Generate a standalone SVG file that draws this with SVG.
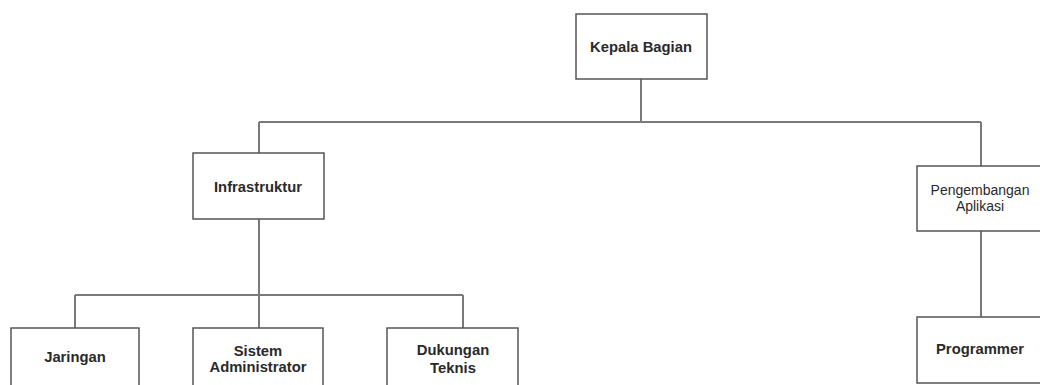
<svg xmlns="http://www.w3.org/2000/svg" width="1040" height="385" viewBox="0 0 1040 385">
<style>
.box{fill:#fff;stroke:#555;stroke-width:1.5}
.t{font-family:"Liberation Sans",Arial,sans-serif;font-size:14.8px;font-weight:bold;fill:#2a2a2a;text-anchor:middle}
.s{font-family:"Liberation Sans",Arial,sans-serif;font-size:14px;fill:#2a2a2a;text-anchor:middle}
.c{fill:none;stroke:#7a7a7a;stroke-width:2}
</style>
<rect width="1040" height="385" fill="#fff"/>
<g id="connectors">
<path class="c" d="M641 79 V122 M259 122 H981 M259 122 V153 M981 122 V166"/>
<path class="c" d="M259 219 V294 M75 295 H463 M75 295 V328 M463 295 V328 M259 294 V328"/>
<path class="c" d="M981 231 V317"/>
</g>
<g id="kepala"><rect class="box" x="576" y="14" width="131" height="65"/><text class="t" x="641" y="52">Kepala Bagian</text></g>
<g id="infra"><rect class="box" x="193" y="153" width="131" height="66"/><text class="t" x="258" y="192">Infrastruktur</text></g>
<g id="pengembangan"><rect class="box" x="917" y="166" width="131" height="65"/><text class="s" x="980" y="195">Pengembangan</text><text class="s" x="980" y="211">Aplikasi</text></g>
<g id="jaringan"><rect class="box" x="11" y="328" width="128" height="70"/><text class="t" x="75" y="362">Jaringan</text></g>
<g id="sistem"><rect class="box" x="193" y="328" width="130" height="70"/><text class="t" x="258" y="356">Sistem</text><text class="t" x="258" y="372">Administrator</text></g>
<g id="dukungan"><rect class="box" x="387" y="328" width="131" height="70"/><text class="t" x="453" y="355">Dukungan</text><text class="t" x="453" y="373">Teknis</text></g>
<g id="programmer"><rect class="box" x="917" y="317" width="131" height="66"/><text class="t" x="980" y="354">Programmer</text></g>
</svg>
